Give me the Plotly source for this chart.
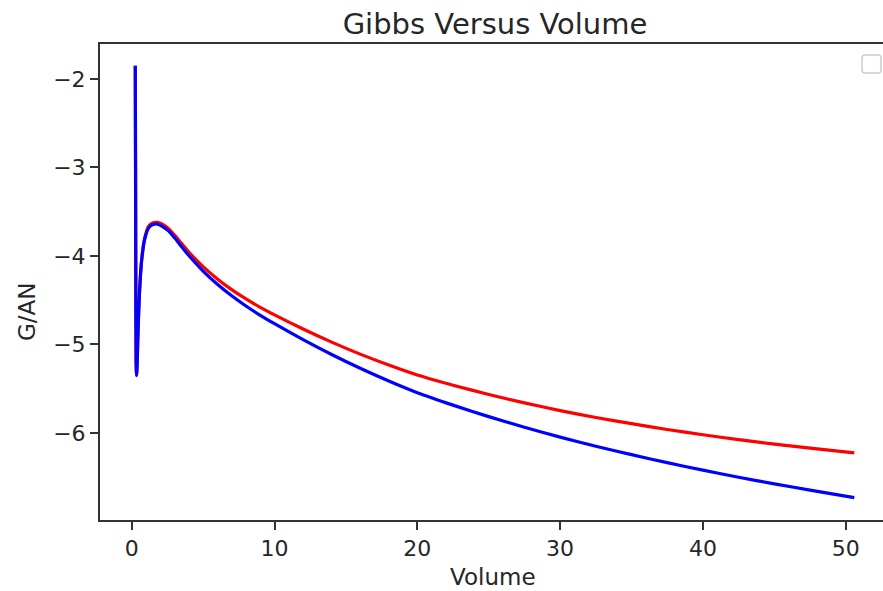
import plotly.graph_objects as go

# Volume samples
volume = [0.25, 0.27, 0.29, 0.31, 0.33, 0.36, 0.40, 0.45, 0.55, 0.70, 0.90, 1.20, 1.50, 1.80,
          2.20, 2.60, 3.0, 3.5, 4.0, 5.0, 6.0, 7.0, 8.0, 9.0, 10.0, 12.0, 14.0, 16.0, 18.0,
          20.0, 22.5, 25.0, 27.5, 30.0, 32.5, 35.0, 37.5, 40.0, 42.5, 45.0, 47.5, 50.6]

gibbs_red = [-1.85, -3.0, -4.5, -5.2, -5.35, -5.30, -5.10, -4.80, -4.39, -4.03, -3.80, -3.66,
             -3.625, -3.62, -3.645, -3.695, -3.765, -3.86, -3.955, -4.12, -4.26, -4.38, -4.485,
             -4.58, -4.665, -4.825, -4.973, -5.109, -5.233, -5.345, -5.46, -5.565, -5.66, -5.747,
             -5.825, -5.895, -5.96, -6.02, -6.075, -6.125, -6.17, -6.225]

gibbs_blue = [-1.85, -3.0, -4.5, -5.2, -5.35, -5.31, -5.11, -4.81, -4.40, -4.05, -3.82, -3.68,
              -3.645, -3.64, -3.67, -3.72, -3.795, -3.895, -3.995, -4.17, -4.32, -4.45, -4.565,
              -4.67, -4.765, -4.945, -5.113, -5.269, -5.413, -5.545, -5.685, -5.815, -5.935,
              -6.047, -6.15, -6.245, -6.335, -6.42, -6.50, -6.575, -6.645, -6.73]

x_ticks = [0, 10, 20, 30, 40, 50]
y_ticks = [-2, -3, -4, -5, -6]

FONT = "DejaVu Sans"
AX = "#333333"
TXT = "#262626"

fig = go.Figure()
fig.add_trace(go.Scatter(x=volume, y=gibbs_red, mode="lines",
                         line=dict(color="#ff0000", width=3.2, shape="spline", smoothing=0.6),
                         showlegend=False))
fig.add_trace(go.Scatter(x=volume, y=gibbs_blue, mode="lines",
                         line=dict(color="#0000ff", width=3.2, shape="spline", smoothing=0.6),
                         showlegend=False))

fig.update_layout(
    width=883, height=591,
    margin=dict(l=100, r=0, t=44, b=71),
    paper_bgcolor="white", plot_bgcolor="white",
    font=dict(family=FONT, color=TXT, size=22),
    title=dict(text="Gibbs Versus Volume", x=495 / 883, xanchor="center",
               y=1 - 24 / 591, yanchor="middle", font=dict(size=29, family=FONT, color=TXT)),
    xaxis=dict(range=[-2.22, 52.61], tickvals=x_ticks, showgrid=False, zeroline=False,
               showline=True, linecolor=AX, linewidth=2, mirror=True,
               ticks="outside", ticklen=8, tickwidth=2, tickcolor=AX,
               tickfont=dict(size=22, family=FONT, color=TXT)),
    yaxis=dict(range=[-6.983, -1.605], tickvals=y_ticks, showgrid=False, zeroline=False,
               showline=True, linecolor=AX, linewidth=2, mirror=False,
               ticks="outside", ticklen=8, tickwidth=2, tickcolor=AX,
               tickfont=dict(size=22, family=FONT, color=TXT)),
    annotations=[
        dict(text="Volume", x=(493 - 100) / 783, y=(520 - 577) / 476, xref="paper", yref="paper",
             xanchor="center", yanchor="middle", showarrow=False,
             font=dict(size=23, family=FONT, color=TXT)),
        dict(text="G/AN", x=(27 - 100) / 783, y=(520 - 312) / 476, xref="paper", yref="paper",
             xanchor="center", yanchor="middle", showarrow=False, textangle=-90,
             font=dict(size=23, family=FONT, color=TXT)),
    ],
)

# empty legend frame in the upper right
x0, x1 = (862 - 100) / 783, (881 - 100) / 783
y0, y1 = (520 - 73) / 476, (520 - 55) / 476
rx, ry = 3 / 783, 3 / 476
path = (f"M {x0+rx},{y1} L {x1-rx},{y1} Q {x1},{y1} {x1},{y1-ry} L {x1},{y0+ry} "
        f"Q {x1},{y0} {x1-rx},{y0} L {x0+rx},{y0} Q {x0},{y0} {x0},{y0+ry} "
        f"L {x0},{y1-ry} Q {x0},{y1} {x0+rx},{y1} Z")
fig.add_shape(type="path", path=path, xref="paper", yref="paper",
              line=dict(color="#cccccc", width=1.5), fillcolor="white")

fig.write_html("out.html")
